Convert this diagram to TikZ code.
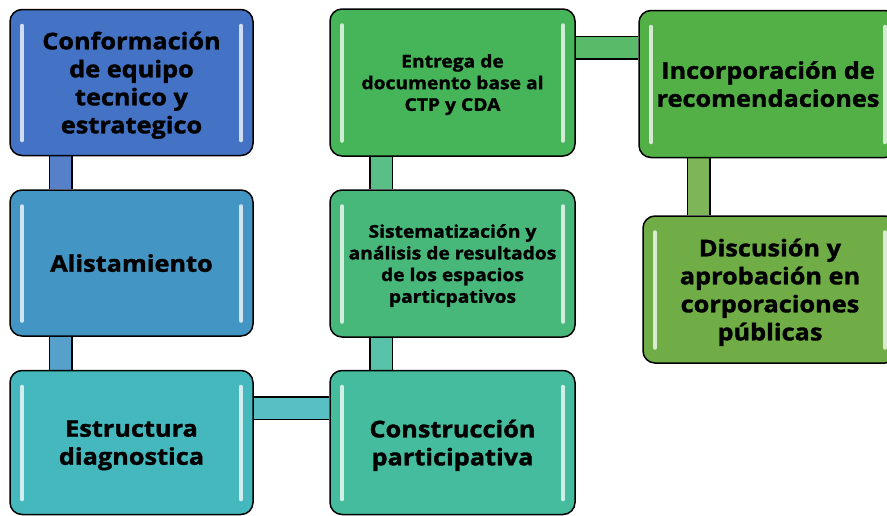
\documentclass[tikz,border=0pt]{standalone}
\usepackage{fontspec}
\setmainfont{Open Sans}[BoldFeatures={FakeBold=1.5,FakeStretch=1.1}]
\usetikzlibrary{positioning}
\usetikzlibrary{backgrounds}
\definecolor{cA}{RGB}{68,114,196}
\definecolor{cB}{RGB}{67,150,195}
\definecolor{cC}{RGB}{69,184,190}
\definecolor{cD}{RGB}{69,188,158}
\definecolor{cE}{RGB}{72,183,122}
\definecolor{cF}{RGB}{70,180,88}
\definecolor{cG}{RGB}{82,176,70}
\definecolor{cH}{RGB}{112,173,71}
\tikzset{
	etapa/.style={draw=black, line width=1.5pt, rounded corners=12pt, fill=#1,
		minimum width=243pt, minimum height=146pt, inner sep=0pt, align=center,
		font=\bfseries\fontsize{23}{28}\selectfont, text depth=-2.5pt,
		path picture={
			\draw[white!75!#1, line width=3.5pt, line cap=round]
				([xshift=12pt,yshift=-16pt]path picture bounding box.north west) -- ([xshift=12pt,yshift=15pt]path picture bounding box.south west)
				([xshift=-12pt,yshift=-16pt]path picture bounding box.north east) -- ([xshift=-12pt,yshift=15pt]path picture bounding box.south east);
		}},
	chico/.style={font=\bfseries\fontsize{17.5}{21.7}\selectfont},
	barra/.style={line width=1.5pt, draw=black, double=#1, double distance=21pt}
}
\begin{document}
\begin{tikzpicture}[x=1pt,y=-1pt]
		\useasboundingbox (0,0) rectangle (887,515);
		\clip (0,0) rectangle (887,515);
		% primera columna
		\node (conf)[etapa=cA] at (131.5,82.5) {Conformación\\de equipo\\tecnico y\\estrategico};
		\node (alist)[etapa=cB, text depth=0pt] at (131.5,263) {Alistamiento};
		\node (estr)[etapa=cC, minimum height=144pt] at (131.5,442.5) {Estructura\\diagnostica};
		% segunda columna
		\node (const)[etapa=cD, minimum width=245pt, minimum height=144pt] at (452.5,442.5) {Construcción\\participativa};
		\node (sist)[etapa=cE, chico, minimum width=245pt, minimum height=147pt] at (452.5,263.5) {Sistematización y\\análisis de resultados\\de los espacios\\particpativos};
		\node (entr)[etapa=cF, chico, minimum width=245pt, minimum height=147pt] at (452.5,82.5) {Entrega de\\documento base al\\CTP y CDA};
		% tercera columna
		\node (inco)[etapa=cG, minimum width=258pt, minimum height=147pt] at (768,84) {Incorporación de\\recomendaciones};
		\node (disc)[etapa=cH, minimum width=254pt, minimum height=147pt] at (770,289.5) {Discusión y\\aprobación en\\corporaciones\\públicas};
		%
		\begin{scope}[on background layer]
			\fill[white] (0,0) rectangle (887,515);
			\draw[barra=cA!90!white] ([xshift=-71pt]conf.south) -- ([xshift=-71pt]alist.north);
			\draw[barra=cB!90!white] ([xshift=-71pt]alist.south) -- ([xshift=-71pt]estr.north);
			\draw[barra=cC!90!white] ([yshift=34.5pt]estr.east) -- ([yshift=34.5pt]const.west);
			\draw[barra=cD!90!white] ([xshift=-71.5pt]const.north) -- ([xshift=-71.5pt]sist.south);
			\draw[barra=cE!90!white] ([xshift=-71.5pt]sist.north) -- ([xshift=-71.5pt]entr.south);
			\draw[barra=cF!90!white] ([yshift=35pt]entr.east) -- ([yshift=35pt]entr.east -| inco.west);
			\draw[barra=cH!90!white] ([xshift=-69.5pt]inco.south) -- ([xshift=-69.5pt]inco.south |- disc.north);
		\end{scope}
	\end{tikzpicture}
\end{document}
